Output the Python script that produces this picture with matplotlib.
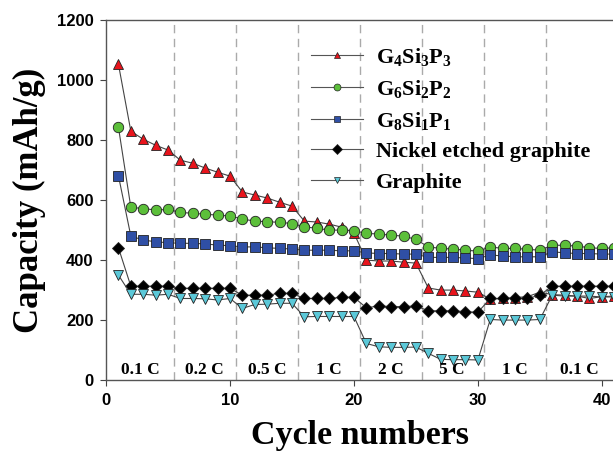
import matplotlib
matplotlib.use("Agg")
import matplotlib.pyplot as plt
from matplotlib.lines import Line2D

plt.rcParams['mathtext.fontset'] = 'custom'
plt.rcParams['mathtext.rm'] = 'Liberation Serif:bold'
plt.rcParams['mathtext.bf'] = 'Liberation Serif:bold'

cycles = list(range(1, 42))

g4si3p3 = [1053, 830, 803, 783, 767, 733, 723, 707, 693, 680,
           627, 617, 607, 593, 580, 530, 527, 520, 510, 490,
           400, 397, 397, 393, 390, 307, 300, 300, 297, 293,
           270, 272, 275, 278, 293, 285, 283, 280, 272, 278, 280]
g6si2p2 = [843, 576, 572, 567, 569, 559, 556, 553, 550, 547,
           537, 530, 528, 526, 522, 511, 506, 500, 500, 498,
           489, 487, 483, 480, 469, 444, 439, 437, 433, 430,
           444, 439, 439, 436, 433, 450, 449, 447, 441, 439, 441]
g8si1p1 = [681, 480, 467, 461, 458, 456, 456, 454, 450, 448,
           444, 444, 441, 439, 437, 433, 433, 433, 431, 431,
           424, 422, 422, 420, 420, 409, 409, 409, 407, 405,
           417, 414, 411, 411, 411, 428, 424, 422, 422, 420, 420]
nickel = [441, 313, 313, 313, 313, 306, 306, 306, 306, 306,
          283, 283, 283, 289, 289, 272, 272, 272, 276, 276,
          241, 247, 245, 245, 247, 231, 231, 231, 228, 226,
          272, 272, 272, 272, 283, 313, 313, 313, 313, 313, 313]
graphite = [350, 286, 286, 283, 286, 272, 272, 271, 267, 272,
            239, 252, 253, 256, 256, 211, 212, 212, 212, 212,
            122, 111, 109, 109, 110, 89, 69, 68, 68, 67,
            202, 200, 200, 200, 202, 283, 280, 280, 280, 277, 277]

rate_bounds = [5.5, 10.5, 15.5, 20.5, 25.5, 30.5, 35.5]
rate_labels = ['0.1 C', '0.2 C', '0.5 C', '1 C', '2 C', '5 C', '1 C', '0.1 C']
rate_label_x = [2.8, 7.9, 13.0, 18.0, 23.0, 27.9, 33.0, 38.2]

series = [
    (g4si3p3, '^', '#e8141c', r'$\mathregular{G_4Si_3P_3}$'),
    (g6si2p2, 'o', '#5cbf3a', r'$\mathregular{G_6Si_2P_2}$'),
    (g8si1p1, 's', '#2f4fa5', r'$\mathregular{G_8Si_1P_1}$'),
    (nickel, 'D', '#000000', 'Nickel etched graphite'),
    (graphite, 'v', '#5bc8d8', 'Graphite'),
]

fig = plt.figure(figsize=(6.13, 4.59), dpi=100)
ax = fig.add_axes([0.173, 0.172, 0.83, 0.784])

for x in rate_bounds:
    ax.axvline(x, color='#aaaaaa', ls=(0, (6, 4)), lw=1.0, zorder=1)

handles = []
for data, mk, col, lab in series:
    ms = 6.5 if mk == 'D' else 7.5
    ax.plot(cycles, data, color='#444444', lw=0.8, marker=mk, ms=ms,
            mfc=col, mec='#222222', mew=0.6, zorder=3)
    handles.append(Line2D([], [], color='#555555', lw=0.8, marker=mk, ms=5,
                          mfc=col, mec='#222222', mew=0.5, label=lab))

for x, t in zip(rate_label_x, rate_labels):
    ax.text(x, 35, t, ha='center', va='center', fontsize=12.5,
            family='Liberation Serif', fontweight='bold')

ax.set_xlim(0, 41.05)
ax.set_ylim(0, 1200)
ax.set_xticks([0, 10, 20, 30, 40])
ax.set_yticks(range(0, 1201, 200))
ax.tick_params(direction='out', length=4, width=0.8, color='#444444', pad=5)
for lab in ax.get_xticklabels() + ax.get_yticklabels():
    lab.set_family('Liberation Sans')
    lab.set_fontweight('bold')
    lab.set_fontsize(12)
for s in ax.spines.values():
    s.set_color('#555555')
    s.set_linewidth(1.0)

ax.set_xlabel('Cycle numbers', fontsize=24.5, family='Liberation Serif',
              fontweight='bold', labelpad=9)
ax.set_ylabel('Capacity (mAh/g)', fontsize=25, family='Liberation Serif',
              fontweight='bold', labelpad=8)

leg = ax.legend(handles=handles, loc='upper left', bbox_to_anchor=(0.363, 0.985),
                frameon=False, handlelength=2.35, handletextpad=0.6,
                labelspacing=0.45,
                prop={'family': 'Liberation Serif', 'weight': 'bold', 'size': 16})

fig.savefig('out.png', dpi=100)
